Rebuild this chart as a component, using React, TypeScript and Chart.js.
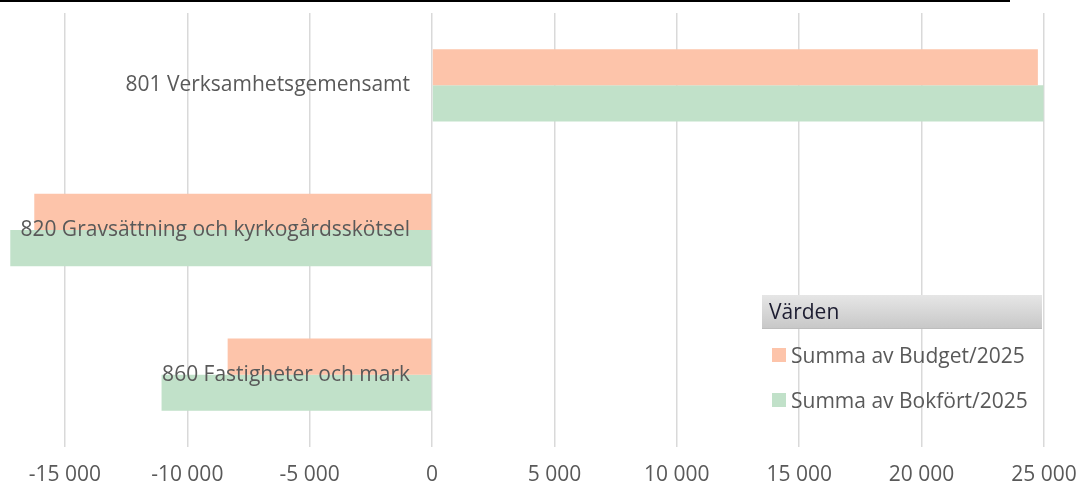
import React, { useEffect, useRef } from "react";
import { Chart, registerables } from "chart.js";

Chart.register(...registerables);

const categories = [
  "801 Verksamhetsgemensamt",
  "820 Gravsättning och kyrkogårdsskötsel",
  "860 Fastigheter och mark",
];
const budget2025 = [24750, -16250, -8350];
const bokfort2025 = [24980, -17230, -11050];
const seriesNames = ["Summa av Budget/2025", "Summa av Bokfört/2025"];
const seriesColors = ["#FDC4AA", "#C1E1C9"];
const legendTitle = "Värden";
const xMin = -17650;
const xMax = 25000;
const xTickValues = [-15000, -10000, -5000, 0, 5000, 10000, 15000, 20000, 25000];

const FONT = "'Open Sans', sans-serif";
const TEXT_GRAY = "#595959";

function formatTick(v: number): string {
  const s = String(Math.abs(Math.round(v))).replace(/\B(?=(\d{3})+(?!\d))/g, " ");
  return (v < 0 ? "-" : "") + s;
}

const categoryLabelPlugin = {
  id: "categoryLabelsAtZero",
  afterDatasetsDraw(chart: any) {
    const { ctx, scales } = chart;
    const xs = scales.x;
    const ys = scales.y;
    const xRight = xs.getPixelForValue(0) - 22;
    ctx.save();
    ctx.font = `21px ${FONT}`;
    ctx.fillStyle = TEXT_GRAY;
    ctx.textAlign = "right";
    ctx.textBaseline = "middle";
    categories.forEach((c, i) => {
      ctx.fillText(c, xRight, ys.getPixelForValue(i));
    });
    ctx.restore();
  },
};

export default function App() {
  const canvasRef = useRef<HTMLCanvasElement | null>(null);

  useEffect(() => {
    if (!canvasRef.current) return;
    const chart = new Chart(canvasRef.current, {
      type: "bar",
      data: {
        labels: categories,
        datasets: [
          {
            label: seriesNames[0],
            data: budget2025,
            backgroundColor: seriesColors[0],
            borderWidth: 0,
            categoryPercentage: 0.5,
            barPercentage: 1.0,
          },
          {
            label: seriesNames[1],
            data: bokfort2025,
            backgroundColor: seriesColors[1],
            borderWidth: 0,
            categoryPercentage: 0.5,
            barPercentage: 1.0,
          },
        ],
      },
      options: {
        indexAxis: "y",
        animation: false,
        responsive: true,
        maintainAspectRatio: false,
        layout: { padding: { top: 13, right: 37, left: 0, bottom: 0 } },
        plugins: {
          legend: { display: false },
          tooltip: { enabled: false },
        },
        scales: {
          x: {
            type: "linear",
            min: xMin,
            max: xMax,
            grid: { color: "#d9d9d9", lineWidth: 1.5, drawTicks: false },
            border: { display: false },
            ticks: {
              autoSkip: false,
              maxRotation: 0,
              padding: 18,
              color: TEXT_GRAY,
              font: { family: FONT, size: 21, lineHeight: 1 },
              callback: (v: any) => formatTick(Number(v)),
            },
            afterBuildTicks: (s: any) => {
              s.ticks = xTickValues.map((v) => ({ value: v }));
            },
            afterFit: (s: any) => {
              s.paddingLeft = 0;
              s.paddingRight = 0;
              s.height = 39;
            },
          },
          y: {
            type: "category",
            position: "left",
            grid: { display: false, drawTicks: false },
            border: { display: false },
            ticks: { display: false },
            afterFit: (s: any) => {
              s.width = 0;
              s.paddingTop = 0;
              s.paddingBottom = 0;
            },
          },
        },
      } as any,
      plugins: [categoryLabelPlugin],
    });
    return () => chart.destroy();
  }, []);

  const textStyle: React.CSSProperties = {
    position: "absolute",
    fontFamily: FONT,
    fontSize: 21,
    color: TEXT_GRAY,
    whiteSpace: "nowrap",
    lineHeight: "24px",
  };

  return (
    <div style={{ position: "absolute", left: 0, top: 0, width: 1081, height: 486, background: "#fff" }}>
      <canvas ref={canvasRef} />
      <div style={{ position: "absolute", left: 0, top: 0, width: 1010, height: 2, background: "#000" }} />
      <div
        style={{
          position: "absolute",
          left: 762,
          top: 295,
          width: 280,
          height: 34,
          background: "linear-gradient(#e6e6e6, #c8c8c8)",
          boxSizing: "border-box",
          borderBottom: "1px solid #bdbdbd",
        }}
      >
        <span
          style={{
            position: "absolute",
            left: 7,
            top: 0,
            fontFamily: FONT,
            fontSize: 21,
            lineHeight: "33px",
            color: "#1c1c30",
          }}
        >
          {legendTitle}
        </span>
      </div>
      {seriesNames.map((name, i) => (
        <React.Fragment key={name}>
          <div
            style={{
              position: "absolute",
              left: 772,
              top: 348 + i * 45,
              width: 14,
              height: 14,
              background: seriesColors[i],
            }}
          />
          <div style={{ ...textStyle, left: 791, top: 343 + i * 45 }}>{name}</div>
        </React.Fragment>
      ))}
    </div>
  );
}
